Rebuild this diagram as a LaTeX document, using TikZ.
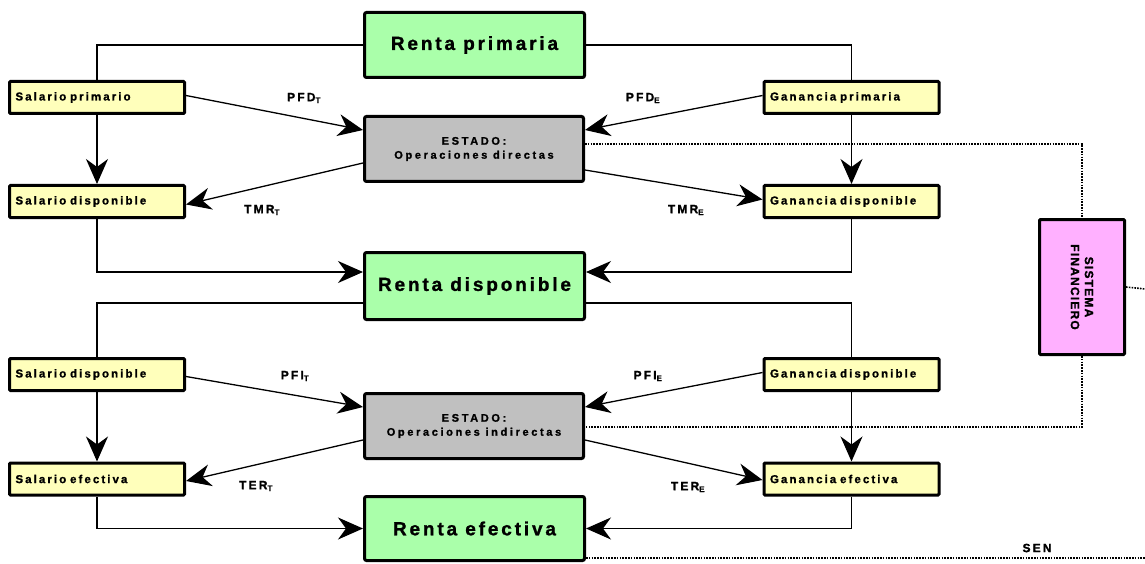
\documentclass[tikz,border=0pt]{standalone}
\usepackage{fontspec}
\setmainfont{Liberation Sans}
\usetikzlibrary{arrows.meta}
\definecolor{rgreen}{HTML}{AAFFAA}
\definecolor{sgray}{HTML}{C0C0C0}
\definecolor{syellow}{HTML}{FFFFBB}
\definecolor{spink}{HTML}{FFB0FF}
\newcommand\myboxfont{\fontsize{11.5}{12}\selectfont\bfseries\addfontfeature{LetterSpace=18,FakeBold=1.2}\spaceskip=5.5pt\relax}
\begin{document}
\begin{tikzpicture}[x=1pt,y=-1pt,
  big/.style={draw, line width=3pt, fill=rgreen, rounded corners=2pt, minimum width=220pt, minimum height=65pt,
    font=\fontsize{19}{21}\selectfont\bfseries\addfontfeature{LetterSpace=15,FakeBold=1.2}},
  estado/.style={draw, line width=3pt, fill=sgray, rounded corners=2pt, minimum width=219pt, minimum height=65pt, align=center,
    font=\fontsize{11}{14}\selectfont\bfseries\addfontfeature{LetterSpace=24,FakeBold=1.2}},
  small/.style={draw, line width=3pt, fill=syellow, rounded corners=1pt, minimum width=175pt, minimum height=32pt,
    text width=163pt, inner xsep=6pt, align=left, font=\myboxfont},
  fin/.style={draw, line width=3pt, fill=spink, rounded corners=1pt, minimum width=85pt, minimum height=135pt},
  lab/.style={font=\fontsize{12}{13}\selectfont\bfseries\addfontfeature{LetterSpace=18,FakeBold=1.2}},
  conn/.style={line width=1.3pt},
  arr/.style={conn, -{Stealth[length=25pt, width=22pt, inset=8pt]}},
  dot/.style={line width=1.6pt, dash pattern=on 1.6pt off 1.2pt}
]
\useasboundingbox[fill=white] (0,0) rectangle (1145,564);

\node[big] (rp) at (474.5,45) {Renta primaria};
\node[small] (sp) at (97,97.5) {Salario primario};
\node[small] (gp) at (851.5,97.5) {Ganancia primaria};
\node[estado] (ed) at (474,149) {ESTADO:\\Operaciones directas};
\node[small] (sd1) at (97,201.5) {Salario disponible};
\node[small] (gd1) at (851.5,201.5) {Ganancia disponible};
\node[big, minimum height=67pt] (rd) at (474.5,286) {Renta disponible};
\node[small] (sd2) at (97,374.5) {Salario disponible};
\node[small] (gd2) at (851.5,374.5) {Ganancia disponible};
\node[estado] (ei) at (474,426) {ESTADO:\\Operaciones indirectas};
\node[small] (se) at (97,479) {Salario efectiva};
\node[small] (ge) at (851.5,479) {Ganancia efectiva};
\node[big, minimum height=64pt] (re) at (474.5,528.5) {Renta efectiva};
\node[fin] (sf) at (1082,287) {};
\node[rotate=-90, align=center, font=\fontsize{12}{14}\selectfont\bfseries\addfontfeature{LetterSpace=10,FakeBold=1.2}] (sft) at (sf.center) {SISTEMA\\FINANCIERO};

\coordinate (rE) at (1145,289);
\coordinate (senE) at (1145,558);

% tree lines
\draw[conn] (rp.west) -| (sp.north);
\draw[conn] (rp.east) -| (gp.north);
\draw[arr] (sp) -- (sd1);
\draw[arr] (gp) -- (gd1);
\draw[arr] (sd1.south) |- ([yshift=14pt]rd.west);
\draw[arr] (gd1.south) |- ([yshift=14pt]rd.east);
\draw[conn] ([yshift=-17pt]rd.west) -| (sd2.north);
\draw[conn] ([yshift=-17pt]rd.east) -| (gd2.north);
\draw[arr] (sd2) -- (se);
\draw[arr] (gd2) -- (ge);
\draw[arr] (se.south) |- (re.west);
\draw[arr] (ge.south) |- (re.east);

% diagonal arrows
\draw[arr] ([yshift=2pt]sp.east) -- ([yshift=19pt]ed.west);
\draw[arr] ([yshift=-14pt]ed.west) -- ([yshift=-3pt]sd1.east);
\draw[arr] ([yshift=2pt]gp.west) -- ([yshift=19pt]ed.east);
\draw[arr] ([yshift=-21pt]ed.east) -- ([yshift=2pt]gd1.west);
\draw[arr] ([yshift=-2pt]sd2.east) -- ([yshift=19pt]ei.west);
\draw[arr] ([yshift=-14pt]ei.west) -- ([yshift=-2pt]se.east);
\draw[arr] ([yshift=2pt]gd2.west) -- ([yshift=19pt]ei.east);
\draw[arr] ([yshift=-14pt]ei.east) -- ([yshift=-1pt]ge.west);

% dotted lines
\draw[dot] ([yshift=5pt]ed.east) -| (sf.north);
\draw[dot] (sf.south) |- ([yshift=-1pt]ei.east);
\draw[dot] (sf.east) -- (rE);
\draw[dot] ([yshift=-29.5pt]re.east) -- (senE);

% labels
\node[lab] (l1) at (304,98) {PFD\textsubscript{T}};
\node[lab] (l2) at (643,98) {PFD\textsubscript{E}};
\node[lab] (l3) at (262,210) {TMR\textsubscript{T}};
\node[lab] (l4) at (686,210) {TMR\textsubscript{E}};
\node[lab] (l5) at (295,376) {PFI\textsubscript{T}};
\node[lab] (l6) at (648,376) {PFI\textsubscript{E}};
\node[lab] (l7) at (256,486) {TER\textsubscript{T}};
\node[lab] (l8) at (688,487) {TER\textsubscript{E}};
\node[lab] (sen) at (1037,548) {SEN};
\end{tikzpicture}
\end{document}
